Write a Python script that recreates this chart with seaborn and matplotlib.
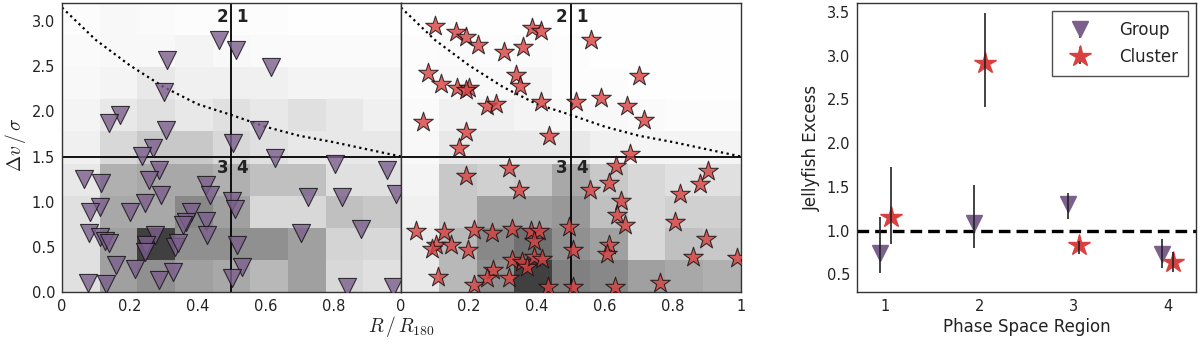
import numpy as np
import pandas as pd
import matplotlib
matplotlib.use("Agg")
import matplotlib.pyplot as plt
import seaborn as sns

# ========== DATA ==========
# group galaxies in phase space (R/R180, dv/sigma)
grp_r = [0.462, 0.514, 0.309, 0.617, 0.302, 0.172, 0.140, 0.307, 0.580, 0.504,
         0.268, 0.236, 0.627, 0.287, 0.804, 0.958, 0.064, 0.116, 0.258, 0.425,
         0.437, 0.291, 0.501, 0.509, 0.985, 0.725, 0.826, 0.111, 0.082, 0.244,
         0.201, 0.381, 0.366, 0.356, 0.425, 0.427, 0.274, 0.080, 0.111, 0.126,
         0.140, 0.249, 0.244, 0.332, 0.342, 0.516, 0.705, 0.882, 0.158, 0.214,
         0.327, 0.530, 0.285, 0.501, 0.077, 0.129, 0.841, 0.975]
grp_dv = [2.79, 2.68, 2.57, 2.49, 2.21, 1.96, 1.87, 1.79, 1.79, 1.65,
          1.59, 1.51, 1.48, 1.35, 1.42, 1.35, 1.25, 1.21, 1.24, 1.18,
          1.07, 1.07, 1.01, 0.92, 1.09, 1.05, 1.05, 0.94, 0.89, 0.98,
          0.89, 0.89, 0.77, 0.74, 0.79, 0.63, 0.63, 0.65, 0.61, 0.57,
          0.54, 0.52, 0.44, 0.50, 0.54, 0.52, 0.65, 0.70, 0.30, 0.26,
          0.22, 0.28, 0.13, 0.16, 0.10, 0.09, 0.06, 0.06]

# cluster galaxies in phase space
cl_r = [0.100, 0.161, 0.191, 0.225, 0.303, 0.360, 0.384, 0.413, 0.558, 0.078,
        0.117, 0.166, 0.200, 0.191, 0.338, 0.350, 0.253, 0.279, 0.413, 0.514,
        0.587, 0.665, 0.699, 0.714, 0.064, 0.191, 0.171, 0.435, 0.673, 0.631,
        0.318, 0.191, 0.902, 0.880, 0.347, 0.612, 0.555, 0.820, 0.646, 0.636,
        0.659, 0.807, 0.898, 0.859, 0.988, 0.044, 0.125, 0.102, 0.092, 0.147,
        0.196, 0.215, 0.267, 0.327, 0.381, 0.406, 0.391, 0.494, 0.507, 0.612,
        0.607, 0.327, 0.357, 0.372, 0.391, 0.416, 0.272, 0.254, 0.318, 0.215,
        0.108, 0.432, 0.507, 0.629, 0.761]
cl_dv = [2.95, 2.88, 2.82, 2.73, 2.66, 2.71, 2.92, 2.89, 2.79, 2.42,
         2.30, 2.26, 2.26, 2.24, 2.40, 2.28, 2.06, 2.08, 2.10, 2.10,
         2.15, 2.06, 2.39, 1.90, 1.88, 1.77, 1.59, 1.73, 1.53, 1.39,
         1.37, 1.28, 1.34, 1.20, 1.13, 1.21, 1.13, 1.08, 1.01, 0.85,
         0.74, 0.77, 0.59, 0.39, 0.38, 0.68, 0.66, 0.52, 0.48, 0.52,
         0.46, 0.69, 0.65, 0.70, 0.68, 0.68, 0.57, 0.72, 0.46, 0.52,
         0.42, 0.35, 0.33, 0.28, 0.39, 0.37, 0.24, 0.15, 0.15, 0.08,
         0.17, 0.06, 0.06, 0.06, 0.10]

# background density of all members (9x9 bins, rows from bottom)
grp_density = [
    [31, 95, 111, 95, 87, 71, 95, 39, 31],
    [31, 95, 191, 111, 111, 111, 95, 43, 39],
    [31, 87, 87, 119, 95, 39, 39, 63, 55],
    [23, 79, 87, 87, 79, 63, 63, 31, 31],
    [15, 39, 55, 55, 39, 31, 23, 23, 23],
    [11, 23, 31, 23, 31, 23, 31, 23, 15],
    [7, 11, 23, 15, 15, 15, 11, 11, 11],
    [5, 7, 7, 11, 7, 5, 5, 5, 5],
    [3, 7, 5, 3, 3, 3, 1, 1, 1],
]
cl_density = [
    [23, 71, 111, 191, 127, 119, 95, 87, 79],
    [23, 71, 119, 143, 111, 95, 39, 63, 55],
    [15, 55, 95, 95, 103, 63, 39, 47, 47],
    [11, 55, 47, 55, 87, 55, 39, 31, 31],
    [7, 23, 23, 23, 23, 15, 11, 11, 11],
    [5, 15, 15, 11, 7, 7, 5, 3, 3],
    [3, 7, 7, 11, 3, 3, 1, 1, 1],
    [3, 5, 3, 5, 3, 1, 1, 1, 1],
    [1, 1, 1, 1, 1, 1, 1, 1, 1],
]

# escape-velocity style caustic (dotted)
curve_r = [0.0, 0.1, 0.2, 0.3, 0.4, 0.5, 0.6, 0.7, 0.8, 0.9, 1.0]
curve_dv = [3.15, 2.79, 2.51, 2.27, 2.08, 1.96, 1.83, 1.73, 1.66, 1.58, 1.50]

# jellyfish excess per phase-space region
regions = [1, 2, 3, 4]
grp_excess = [0.74, 1.09, 1.30, 0.73]
grp_lo = [0.52, 0.80, 1.13, 0.57]
grp_hi = [1.16, 1.52, 1.43, 0.90]
cl_excess = [1.16, 2.91, 0.84, 0.64]
cl_lo = [0.85, 2.41, 0.73, 0.53]
cl_hi = [1.73, 3.49, 0.88, 0.76]

PURPLE = "#7b5f8c"
RED = "#d94040"

# ========== STYLE ==========
sns.set_style("white")
plt.rcParams["font.family"] = ["DejaVu Sans"]
plt.rcParams["mathtext.fontset"] = "cm"
plt.rcParams["axes.edgecolor"] = "#333333"
plt.rcParams["axes.linewidth"] = 1.0

fig = plt.figure(figsize=(12, 3.45), dpi=100)
ax1 = fig.add_axes([62 / 1200, 53 / 345, 339 / 1200, 289 / 345])
ax2 = fig.add_axes([401 / 1200, 53 / 345, 340 / 1200, 289 / 345])
ax3 = fig.add_axes([857 / 1200, 53 / 345, 339 / 1200, 289 / 345])

xedges = np.linspace(0, 1, 10)
yedges = np.linspace(0, 3.2, 10)

panels = [
    (ax1, grp_r, grp_dv, grp_density, "v", PURPLE, 170),
    (ax2, cl_r, cl_dv, cl_density, "*", RED, 220),
]
for ax, rr, dv, dens, mk, col, size in panels:
    ax.pcolormesh(xedges, yedges, np.array(dens), cmap="binary",
                  vmin=0, vmax=255, zorder=0)
    pts = pd.DataFrame({"r": rr, "dv": dv})
    sns.scatterplot(data=pts, x="r", y="dv", marker=mk, s=size, color=col,
                    alpha=0.8, edgecolor="#111111", linewidth=0.8, ax=ax,
                    zorder=3, legend=False)
    ax.plot(curve_r, curve_dv, color="k", lw=1.6, linestyle=(0, (1, 1.6)),
            zorder=2)
    ax.axvline(0.5, color="k", lw=1.3, zorder=2)
    ax.axhline(1.5, color="k", lw=1.3, zorder=2)
    ax.text(0.49, 3.05, "2", ha="right", va="center", fontsize=12,
            fontweight="bold", color="#222222", zorder=4)
    ax.text(0.515, 3.05, "1", ha="left", va="center", fontsize=12,
            fontweight="bold", color="#222222", zorder=4)
    ax.text(0.49, 1.37, "3", ha="right", va="center", fontsize=12,
            fontweight="bold", color="#222222", zorder=4)
    ax.text(0.515, 1.37, "4", ha="left", va="center", fontsize=12,
            fontweight="bold", color="#222222", zorder=4)
    ax.set_xlim(0, 1)
    ax.set_ylim(0, 3.2)
    ax.set_xlabel("")
    ax.set_ylabel("")
    ax.set_yticks([0, 0.5, 1.0, 1.5, 2.0, 2.5, 3.0])
    ax.tick_params(direction="in", length=4, width=0.8, color="#555555",
                   labelsize=10.5, labelcolor="#222222", pad=5)

ax1.set_xticks([0, 0.2, 0.4, 0.6, 0.8])
ax1.set_xticklabels(["0", "0.2", "0.4", "0.6", "0.8"])
ax1.set_yticklabels(["0.0", "0.5", "1.0", "1.5", "2.0", "2.5", "3.0"])
ax2.set_xticks([0, 0.2, 0.4, 0.6, 0.8, 1.0])
ax2.set_xticklabels(["0", "0.2", "0.4", "0.6", "0.8", "1"])
ax2.set_yticklabels([])

fig.text(0.0125, 0.58, r"$\Delta v\,/\,\sigma$", rotation=90, ha="center",
         va="center", fontsize=14, color="#222222")
fig.text(401 / 1200, 0.055, r"$R\,/\,R_{180}$", ha="center", va="center",
         fontsize=14, color="#222222")

# ========== EXCESS PANEL ==========
reg = np.array(regions, dtype=float)
ge = np.array(grp_excess)
ce = np.array(cl_excess)
ax3.axhline(1.0, color="k", lw=2.4, linestyle=(0, (3.5, 1.8)), zorder=1)
ax3.errorbar(reg - 0.06, ge, yerr=[ge - np.array(grp_lo), np.array(grp_hi) - ge],
             fmt="v", color=PURPLE, markersize=12, ecolor="#222222",
             elinewidth=1.2, capsize=0, barsabove=True, label="Group", zorder=3)
ax3.errorbar(reg + 0.06, ce, yerr=[ce - np.array(cl_lo), np.array(cl_hi) - ce],
             fmt="*", color=RED, markersize=16, ecolor="#222222",
             elinewidth=1.2, capsize=0, barsabove=True, label="Cluster", zorder=3)
ax3.set_xlim(0.7, 4.3)
ax3.set_ylim(0.3, 3.6)
ax3.set_xticks(regions)
ax3.set_yticks([0.5, 1.0, 1.5, 2.0, 2.5, 3.0, 3.5])
ax3.tick_params(direction="in", length=5, width=0.8, color="#555555",
                labelsize=10.5, labelcolor="#222222", pad=5)
ax3.set_xlabel("Phase Space Region", fontsize=12, color="#222222", labelpad=3)
ax3.set_ylabel("Jellyfish Excess", fontsize=12, color="#222222", labelpad=4)
leg = ax3.legend(loc="upper right", fontsize=12, frameon=True, fancybox=False,
                 edgecolor="#222222", handlelength=2.2, handletextpad=1.2,
                 borderpad=0.6, labelspacing=0.5)
leg.get_frame().set_linewidth(1.0)

fig.savefig("out.png", dpi=100)
